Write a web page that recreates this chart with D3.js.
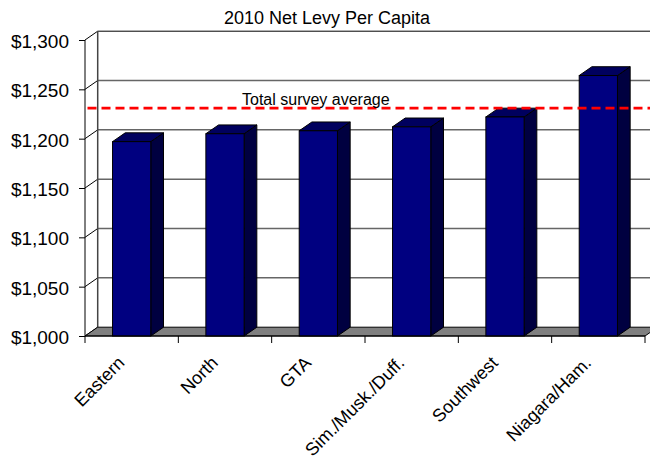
<!DOCTYPE html>
<html><head><meta charset="utf-8">
<script src="https://cdn.jsdelivr.net/npm/d3@7"></script>
<style>body{margin:0;background:#fff}svg{display:block;font-family:"Liberation Sans",Arial,sans-serif}</style>
</head><body>
<svg id="c" width="650" height="460"></svg>
<script>
const categories = ["Eastern","North","GTA","Sim./Musk./Duff.","Southwest","Niagara/Ham."];
const values = [1197, 1205, 1208, 1212, 1222, 1264];
const averageValue = 1231;
const averageLabel = "Total survey average";
const yTicks = [1000,1050,1100,1150,1200,1250,1300];
const title = "2010 Net Levy Per Capita";

(function () {
const svg = d3.select("#c");
const W = 650;
const pLeft = 85, pRight = 645, pTop = 40, pBottom = 336;
const DX = 12.7, DY = -8.8;

const x = d3.scaleBand().domain(categories).range([pLeft, pRight]).paddingInner(0).paddingOuter(0);
const y = d3.scaleLinear().domain([1000, 1300]).range([pBottom, pTop]);
const barW = x.bandwidth() * 0.41;

// title
svg.append("text").attr("x", 327).attr("y", 24).attr("text-anchor", "middle")
  .attr("font-size", 18).attr("fill", "#000").text(title);

// back wall gridlines + left wall diagonals
const g = svg.append("g");
yTicks.forEach(t => {
  const yf = y(t);
  g.append("line").attr("x1", pLeft).attr("y1", yf).attr("x2", pLeft + DX).attr("y2", yf + DY)
    .attr("stroke", "#000").attr("stroke-width", 1);
  if (t !== 1000) {
    g.append("line").attr("x1", pLeft + DX).attr("y1", yf + DY).attr("x2", W + 20).attr("y2", yf + DY)
      .attr("stroke", t === 1300 ? "#000" : "#666").attr("stroke-width", t === 1300 ? 1 : 1.5);
  }
});
// back wall left edge
g.append("line").attr("x1", pLeft + DX).attr("y1", y(1300) + DY).attr("x2", pLeft + DX).attr("y2", y(1000) + DY)
  .attr("stroke", "#444").attr("stroke-width", 1.5);

// floor
const fl = [[pLeft, pBottom], [pRight, pBottom], [pRight + DX, pBottom + DY], [pLeft + DX, pBottom + DY]];
svg.append("path").attr("d", "M" + fl.map(p => p.join(",")).join("L") + "Z")
  .attr("fill", "#808080").attr("stroke", "#000").attr("stroke-width", 1);

// bars
const bars = svg.append("g").selectAll("g").data(categories.map((c, i) => ({c, v: values[i]}))).join("g");
bars.each(function(d) {
  const gg = d3.select(this);
  const cx = x(d.c) + x.bandwidth() / 2;
  const x0 = cx - barW / 2, x1 = cx + barW / 2;
  const yt = y(d.v), yb = y(1000);
  gg.append("path").attr("d", `M${x1},${yt}L${x1 + DX},${yt + DY}L${x1 + DX},${yb + DY}L${x1},${yb}Z`)
    .attr("fill", "#000040").attr("stroke", "#000").attr("stroke-width", 1);
  gg.append("path").attr("d", `M${x0},${yt}L${x0 + DX},${yt + DY}L${x1 + DX},${yt + DY}L${x1},${yt}Z`)
    .attr("fill", "#00005e").attr("stroke", "#000").attr("stroke-width", 1);
  gg.append("rect").attr("x", x0).attr("y", yt).attr("width", barW).attr("height", yb - yt)
    .attr("fill", "#000080").attr("stroke", "#000").attr("stroke-width", 1);
});

// average line
svg.append("line").attr("x1", pLeft + 2.5).attr("x2", W).attr("y1", y(averageValue)).attr("y2", y(averageValue))
  .attr("stroke", "#ff0000").attr("stroke-width", 2.6).attr("stroke-dasharray", "9,5");
svg.append("text").attr("x", 242).attr("y", y(averageValue) - 3).attr("font-size", 16).attr("fill", "#000")
  .text(averageLabel);

// y axis
const ya = svg.append("g").attr("transform", `translate(${pLeft},0)`)
  .call(d3.axisLeft(y).tickValues(yTicks).tickSize(6).tickPadding(10).tickFormat(d3.format("$,")));
ya.select(".domain").attr("stroke", "#000").attr("d", `M0,${pBottom}V${pTop}`);
ya.selectAll("text").attr("font-size", 19).attr("font-family", "Liberation Sans, Arial, sans-serif")
  .attr("fill", "#000").attr("dy", "0.4em");
ya.selectAll("line").attr("stroke", "#000");

// x axis
svg.append("line").attr("x1", pLeft).attr("x2", pRight).attr("y1", pBottom).attr("y2", pBottom).attr("stroke", "#000");
const edges = categories.map(c => x(c)).concat([pRight]);
svg.append("g").selectAll("line").data(edges).join("line")
  .attr("x1", d => d).attr("x2", d => d).attr("y1", pBottom).attr("y2", pBottom + 7).attr("stroke", "#000");
svg.append("g").selectAll("text").data(categories).join("text")
  .attr("transform", d => `translate(${x(d) + x.bandwidth() / 2 - 6},364) rotate(-45)`)
  .attr("text-anchor", "end").attr("font-size", 18).attr("fill", "#000").text(d => d);
})();
</script>
</body></html>
